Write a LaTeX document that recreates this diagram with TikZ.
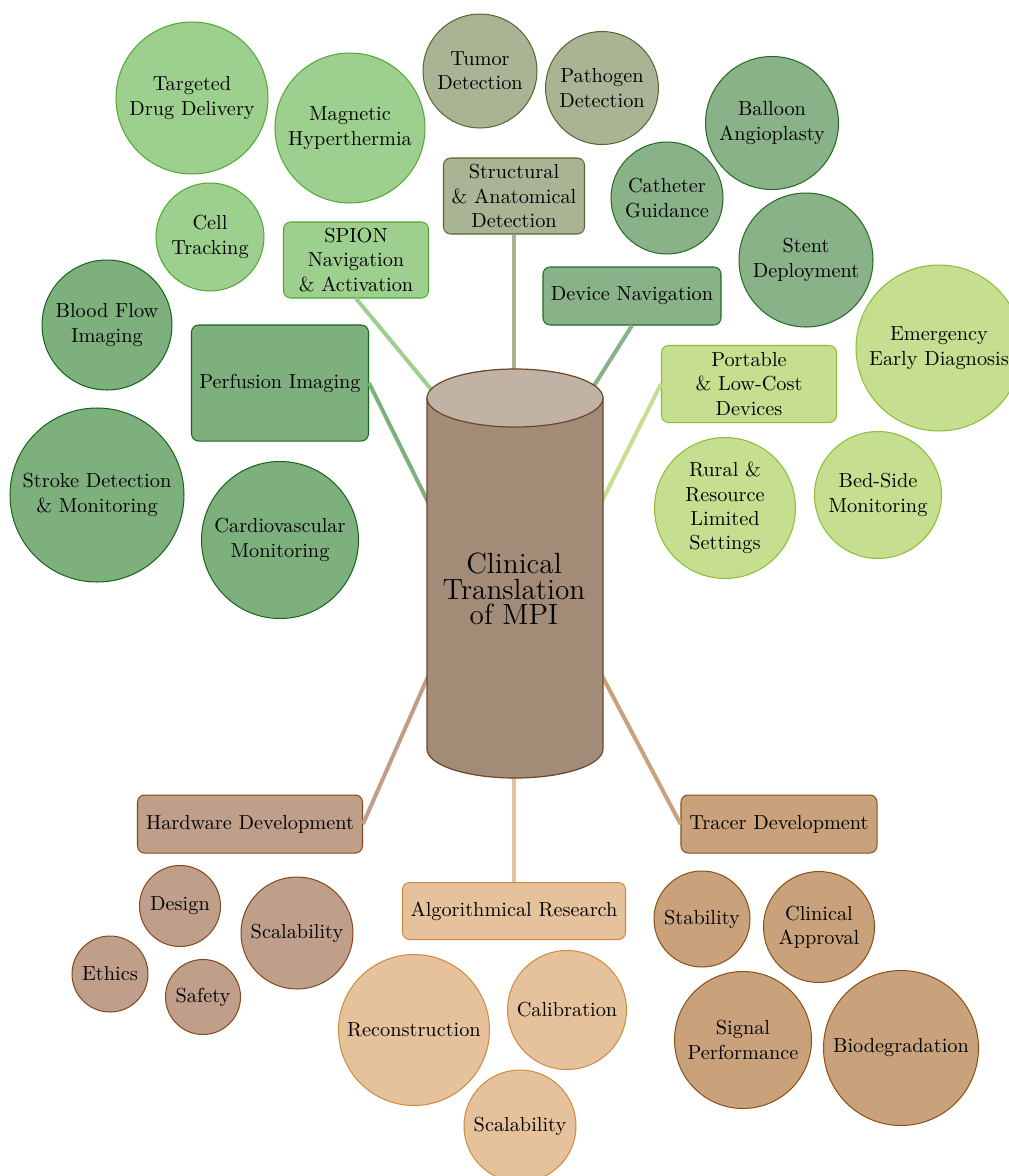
\documentclass[tikz,border=0pt]{standalone}
\usetikzlibrary{calc}
\newcommand{\pxu}{0.4925pt}

% family colours: fill / border
\definecolor{spF}{HTML}{9DD08F}\definecolor{spD}{HTML}{4FA832}
\definecolor{peF}{HTML}{7EB07E}\definecolor{peD}{HTML}{16661A}
\definecolor{stF}{HTML}{A8B494}\definecolor{stD}{HTML}{56682E}
\definecolor{dvF}{HTML}{89B289}\definecolor{dvD}{HTML}{236A23}
\definecolor{poF}{HTML}{C5DE8F}\definecolor{poD}{HTML}{8BBE32}
\definecolor{hwF}{HTML}{C09F8A}\definecolor{hwD}{HTML}{84481E}
\definecolor{alF}{HTML}{E6C29C}\definecolor{alD}{HTML}{D08A3C}
\definecolor{trF}{HTML}{C9A27C}\definecolor{trD}{HTML}{8C5014}
\definecolor{cylBody}{HTML}{A28C78}
\definecolor{cylTop}{HTML}{C1B2A6}
\definecolor{cylEdge}{HTML}{6E4628}

\begin{document}
\begin{tikzpicture}[x=\pxu, y=\pxu,
  every node/.style={align=center, inner sep=0pt, line width=0.5pt,
    font=\fontsize{10}{12}\selectfont},
  bubble/.style={circle, minimum size=#1*\pxu},
  card/.style 2 args={rectangle, rounded corners=3.5pt,
    minimum width=#1*\pxu, minimum height=#2*\pxu},
  spion/.style={fill=spF, draw=spD},
  perf/.style={fill=peF, draw=peD},
  struc/.style={fill=stF, draw=stD},
  devnav/.style={fill=dvF, draw=dvD},
  port/.style={fill=poF, draw=poD},
  hard/.style={fill=hwF, draw=hwD},
  algo/.style={fill=alF, draw=alD},
  tracer/.style={fill=trF, draw=trD},
  link/.style={line width=4*\pxu}]

\useasboundingbox (0,0) rectangle (1009,-1176);
\clip (0,0) rectangle (1009,-1176);

% --- SPION branch
\node[spion, card={145}{76}] (spion) at (356,-260) {SPION\\Navigation\\\& Activation};
\node[spion, bubble=152] (drug) at (192,-98) {Targeted\\Drug Delivery};
\node[spion, bubble=150] (hyper) at (350,-128) {Magnetic\\Hyperthermia};
\node[spion, bubble=108] (cell) at (210,-237) {Cell\\Tracking};

% --- perfusion branch
\node[perf, card={177}{116}] (perf) at (280,-383) {Perfusion Imaging};
\node[perf, bubble=130] (blood) at (107,-325) {Blood Flow\\Imaging};
\node[perf, bubble=174] (stroke) at (97,-495) {Stroke Detection\\\& Monitoring};
\node[perf, bubble=157] (cardio) at (280,-540) {Cardiovascular\\Monitoring};

% --- structural branch
\node[struc, card={141}{76}] (struc) at (514,-196) {Structural\\\& Anatomical\\Detection};
\node[struc, bubble=114] (tumor) at (480,-71) {Tumor\\Detection};
\node[struc, bubble=113] (patho) at (602,-88) {Pathogen\\Detection};

% --- device navigation branch
\node[devnav, card={178}{58}] (dev) at (632,-296) {Device Navigation};
\node[devnav, bubble=112] (cath) at (667,-198) {Catheter\\Guidance};
\node[devnav, bubble=133] (ball) at (772,-123) {Balloon\\Angioplasty};
\node[devnav, bubble=134] (stent) at (806,-260) {Stent\\Deployment};

% --- portable devices branch
\node[port, card={175}{77}] (port) at (749,-384) {Portable\\\& Low-Cost\\Devices};
\node[port, bubble=166] (emerg) at (939,-348) {Emergency\\Early Diagnosis};
\node[port, bubble=141] (rural) at (725,-508) {Rural \&\\Resource\\Limited\\Settings};
\node[port, bubble=127] (bed) at (878,-495) {Bed-Side\\Monitoring};

% --- hardware branch
\node[hard, card={225}{58}] (hw) at (250,-824) {Hardware Development};
\node[hard, bubble=81] (design) at (180,-906) {Design};
\node[hard, bubble=112] (hwscal) at (297,-933) {Scalability};
\node[hard, bubble=76] (ethics) at (110,-974) {Ethics};
\node[hard, bubble=75] (safety) at (203,-997) {Safety};

% --- algorithm branch
\node[algo, card={223}{57}] (algo) at (514,-911) {Algorithmical Research};
\node[algo, bubble=151] (recon) at (414,-1030) {Reconstruction};
\node[algo, bubble=119] (calib) at (567,-1010) {Calibration};
\node[algo, bubble=112] (alscal) at (520,-1126) {Scalability};

% --- tracer branch
\node[tracer, card={196}{58}] (tr) at (779,-824) {Tracer Development};
\node[tracer, bubble=96] (stab) at (702,-919) {Stability};
\node[tracer, bubble=111] (appr) at (819,-927) {Clinical\\Approval};
\node[tracer, bubble=137] (signal) at (743,-1040) {Signal\\Performance};
\node[tracer, bubble=155] (biodeg) at (901,-1048) {Biodegradation};

% attachment points on the central cylinder
\coordinate (hSP) at (440,-400);
\coordinate (hST) at (514,-390);
\coordinate (hDV) at (585,-400);
\coordinate (hPO) at (600,-505);
\coordinate (hPE) at (430,-506);
\coordinate (hHW) at (430,-672);
\coordinate (hAL) at (514,-770);
\coordinate (hTR) at (600,-672);

% connectors, drawn beneath the cylinder
\draw[link, spF] (spion.south) -- (hSP);
\draw[link, stF] (struc.south) -- (hST);
\draw[link, dvF] (dev.south) -- (hDV);
\draw[link, poF] (port.west) -- (hPO);
\draw[link, peF] (perf.east) -- (hPE);
\draw[link, hwF] (hw.east) -- (hHW);
\draw[link, alF] (algo.north) -- (hAL);
\draw[link, trF] (tr.west) -- (hTR);

% central cylinder
\draw[fill=cylBody, draw=cylEdge, line width=0.6pt]
  (427,-398) -- (427,-749)
  arc[start angle=180, end angle=360, x radius=88, y radius=29]
  -- (603,-398) -- cycle;
\draw[fill=cylTop, draw=cylEdge, line width=0.6pt]
  (515,-398) ellipse[x radius=88, y radius=29];
\node[font=\fontsize{14.4}{12.4}\selectfont] (hub) at (514,-589)
  {Clinical\\Translation\\of MPI};

\end{tikzpicture}
\end{document}
